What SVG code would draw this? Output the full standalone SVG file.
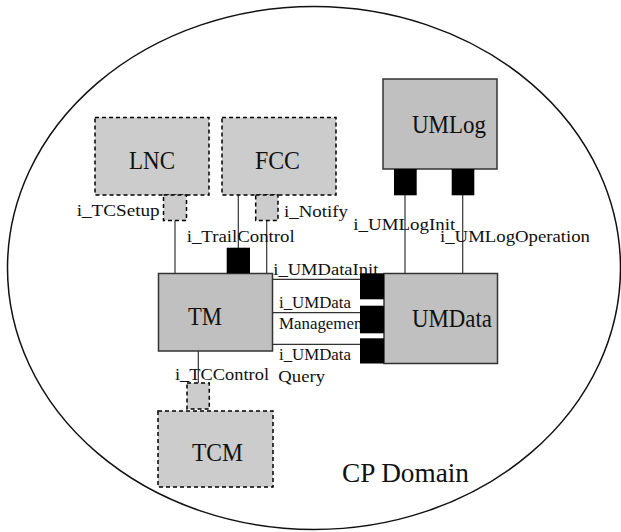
<svg xmlns="http://www.w3.org/2000/svg" width="621" height="532" viewBox="0 0 621 532">
<style>
.solid{fill:#c0c0c0;stroke:#333;stroke-width:1.5}
.dash{fill:#cccccc;stroke:#000;stroke-width:1.5;stroke-dasharray:4 3}
.port{fill:#000;stroke:none}
.ln{stroke:#333;stroke-width:1.2;fill:none}
.big{font-family:"Liberation Serif","Times New Roman",serif;font-size:25px;fill:#111}
.sm{font-family:"Liberation Serif","Times New Roman",serif;font-size:17px;fill:#111}
</style>
<rect width="621" height="532" fill="#fff"/>
<g id="domain">
<ellipse cx="314" cy="268" rx="306.5" ry="261.5" fill="none" stroke="#111" stroke-width="1.5"/>
<text class="big" x="342" y="482" style="font-size:27px" textLength="127" lengthAdjust="spacingAndGlyphs">CP Domain</text>
</g>
<g id="connectors">
<line class="ln" x1="175" y1="220" x2="175" y2="273"/>
<line class="ln" x1="238.3" y1="195" x2="238.3" y2="248"/>
<line class="ln" x1="266.7" y1="220" x2="266.7" y2="273"/>
<line class="ln" x1="405" y1="195" x2="405" y2="273.5"/>
<line class="ln" x1="462.7" y1="195" x2="462.7" y2="273.5"/>
<line class="ln" x1="272" y1="279.3" x2="360" y2="279.3"/>
<line class="ln" x1="272" y1="312.7" x2="360" y2="312.7"/>
<line class="ln" x1="272" y1="344.3" x2="360" y2="344.3"/>
<line class="ln" x1="198.3" y1="351" x2="198.3" y2="383"/>
</g>
<g id="LNC">
<rect class="dash" x="95" y="117.5" width="114" height="77.5"/>
<text class="big" x="129" y="168.5" textLength="46" lengthAdjust="spacingAndGlyphs">LNC</text>
</g>
<g id="FCC">
<rect class="dash" x="222" y="117.5" width="114" height="77.5"/>
<text class="big" x="255" y="168.5" textLength="45" lengthAdjust="spacingAndGlyphs">FCC</text>
</g>
<g id="UMLog">
<rect class="solid" x="383" y="79" width="114" height="90"/>
<text class="big" x="412" y="132.5" textLength="74" lengthAdjust="spacingAndGlyphs">UMLog</text>
</g>
<g id="TM">
<rect class="solid" x="158.5" y="273.5" width="114" height="77.5"/>
<text class="big" x="188" y="325" textLength="34" lengthAdjust="spacingAndGlyphs">TM</text>
</g>
<g id="UMData">
<rect class="solid" x="384" y="273.5" width="113.5" height="90"/>
<text class="big" x="412" y="327" textLength="80" lengthAdjust="spacingAndGlyphs">UMData</text>
</g>
<g id="TCM">
<rect class="dash" x="158" y="411" width="115" height="76"/>
<text class="big" x="192" y="461" textLength="51" lengthAdjust="spacingAndGlyphs">TCM</text>
</g>
<g id="labels">
<text class="sm" x="76.7" y="216" textLength="83" lengthAdjust="spacingAndGlyphs">i_TCSetup</text>
<text class="sm" x="284" y="216.5" textLength="64" lengthAdjust="spacingAndGlyphs">i_Notify</text>
<text class="sm" x="186.7" y="241.7" textLength="108" lengthAdjust="spacingAndGlyphs">i_TrailControl</text>
<text class="sm" x="353.3" y="230" textLength="102" lengthAdjust="spacingAndGlyphs">i_UMLogInit</text>
<text class="sm" x="440" y="241.7" textLength="150" lengthAdjust="spacingAndGlyphs">i_UMLogOperation</text>
<text class="sm" x="273.3" y="275" textLength="105" lengthAdjust="spacingAndGlyphs">i_UMDataInit</text>
<text class="sm" x="279" y="307.7" textLength="72" lengthAdjust="spacingAndGlyphs">i_UMData</text>
<text class="sm" x="279" y="328.5" textLength="88" lengthAdjust="spacingAndGlyphs">Management</text>
<text class="sm" x="279" y="360" textLength="72" lengthAdjust="spacingAndGlyphs">i_UMData</text>
<text class="sm" x="278.3" y="381.7" textLength="46.7" lengthAdjust="spacingAndGlyphs">Query</text>
<text class="sm" x="175" y="380" textLength="94" lengthAdjust="spacingAndGlyphs">i_TCControl</text>
</g>
<g id="ports">
<rect class="dash" x="163.5" y="195" width="23" height="25.5"/>
<rect class="dash" x="255.7" y="195" width="22.3" height="25.5"/>
<rect class="dash" x="187" y="383" width="22.3" height="26"/>
<rect class="port" x="226.7" y="247.7" width="23.3" height="25.5"/>
<rect class="port" x="394" y="169" width="22.7" height="26.3"/>
<rect class="port" x="451.7" y="169" width="22.6" height="26.3"/>
<rect class="port" x="360" y="273.3" width="24" height="26"/>
<rect class="port" x="360" y="305.7" width="24" height="27.6"/>
<rect class="port" x="360" y="338.3" width="24" height="25.2"/>
</g>
</svg>
